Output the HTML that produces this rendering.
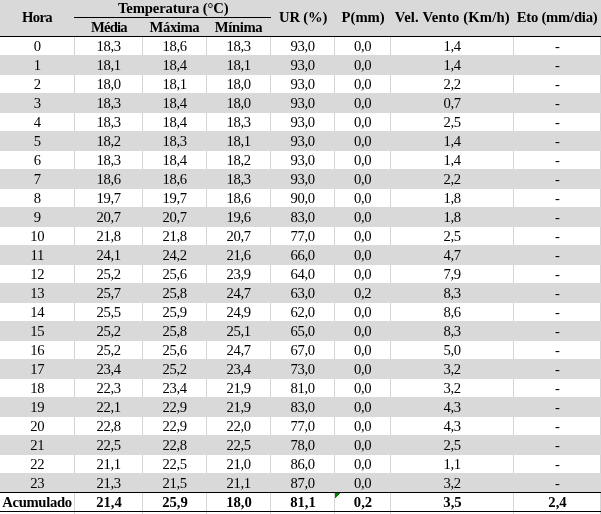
<!DOCTYPE html>
<html><head><meta charset="utf-8"><style>
*{margin:0;padding:0;box-sizing:border-box}
html,body{width:601px;height:514px;overflow:hidden;background:#fff}
body{position:relative;font-family:"Liberation Serif",serif;color:#000}
.b{position:absolute}
.t{position:absolute;text-align:center;white-space:nowrap;font-size:14.67px;line-height:20px;height:20px}
.h{font-weight:bold;font-size:14.67px}
</style></head>
<body>
<div class="b" style="left:0px;top:0px;width:601px;height:36px;background:#d9d9d9"></div>
<div class="b" style="left:74px;top:37px;width:1px;height:18px;background:#d4d4d4"></div>
<div class="b" style="left:142px;top:37px;width:1px;height:18px;background:#d4d4d4"></div>
<div class="b" style="left:206px;top:37px;width:1px;height:18px;background:#d4d4d4"></div>
<div class="b" style="left:270px;top:37px;width:1px;height:18px;background:#d4d4d4"></div>
<div class="b" style="left:334px;top:37px;width:1px;height:18px;background:#d4d4d4"></div>
<div class="b" style="left:390px;top:37px;width:1px;height:18px;background:#d4d4d4"></div>
<div class="b" style="left:513px;top:37px;width:1px;height:18px;background:#d4d4d4"></div>
<div class="b" style="left:600px;top:37px;width:1px;height:18px;background:#d4d4d4"></div>
<div class="b" style="left:0px;top:55px;width:601px;height:20px;background:#d9d9d9"></div>
<div class="b" style="left:74px;top:75px;width:1px;height:18px;background:#d4d4d4"></div>
<div class="b" style="left:142px;top:75px;width:1px;height:18px;background:#d4d4d4"></div>
<div class="b" style="left:206px;top:75px;width:1px;height:18px;background:#d4d4d4"></div>
<div class="b" style="left:270px;top:75px;width:1px;height:18px;background:#d4d4d4"></div>
<div class="b" style="left:334px;top:75px;width:1px;height:18px;background:#d4d4d4"></div>
<div class="b" style="left:390px;top:75px;width:1px;height:18px;background:#d4d4d4"></div>
<div class="b" style="left:513px;top:75px;width:1px;height:18px;background:#d4d4d4"></div>
<div class="b" style="left:600px;top:75px;width:1px;height:18px;background:#d4d4d4"></div>
<div class="b" style="left:0px;top:93px;width:601px;height:20px;background:#d9d9d9"></div>
<div class="b" style="left:74px;top:113px;width:1px;height:18px;background:#d4d4d4"></div>
<div class="b" style="left:142px;top:113px;width:1px;height:18px;background:#d4d4d4"></div>
<div class="b" style="left:206px;top:113px;width:1px;height:18px;background:#d4d4d4"></div>
<div class="b" style="left:270px;top:113px;width:1px;height:18px;background:#d4d4d4"></div>
<div class="b" style="left:334px;top:113px;width:1px;height:18px;background:#d4d4d4"></div>
<div class="b" style="left:390px;top:113px;width:1px;height:18px;background:#d4d4d4"></div>
<div class="b" style="left:513px;top:113px;width:1px;height:18px;background:#d4d4d4"></div>
<div class="b" style="left:600px;top:113px;width:1px;height:18px;background:#d4d4d4"></div>
<div class="b" style="left:0px;top:131px;width:601px;height:20px;background:#d9d9d9"></div>
<div class="b" style="left:74px;top:151px;width:1px;height:18px;background:#d4d4d4"></div>
<div class="b" style="left:142px;top:151px;width:1px;height:18px;background:#d4d4d4"></div>
<div class="b" style="left:206px;top:151px;width:1px;height:18px;background:#d4d4d4"></div>
<div class="b" style="left:270px;top:151px;width:1px;height:18px;background:#d4d4d4"></div>
<div class="b" style="left:334px;top:151px;width:1px;height:18px;background:#d4d4d4"></div>
<div class="b" style="left:390px;top:151px;width:1px;height:18px;background:#d4d4d4"></div>
<div class="b" style="left:513px;top:151px;width:1px;height:18px;background:#d4d4d4"></div>
<div class="b" style="left:600px;top:151px;width:1px;height:18px;background:#d4d4d4"></div>
<div class="b" style="left:0px;top:169px;width:601px;height:20px;background:#d9d9d9"></div>
<div class="b" style="left:74px;top:189px;width:1px;height:18px;background:#d4d4d4"></div>
<div class="b" style="left:142px;top:189px;width:1px;height:18px;background:#d4d4d4"></div>
<div class="b" style="left:206px;top:189px;width:1px;height:18px;background:#d4d4d4"></div>
<div class="b" style="left:270px;top:189px;width:1px;height:18px;background:#d4d4d4"></div>
<div class="b" style="left:334px;top:189px;width:1px;height:18px;background:#d4d4d4"></div>
<div class="b" style="left:390px;top:189px;width:1px;height:18px;background:#d4d4d4"></div>
<div class="b" style="left:513px;top:189px;width:1px;height:18px;background:#d4d4d4"></div>
<div class="b" style="left:600px;top:189px;width:1px;height:18px;background:#d4d4d4"></div>
<div class="b" style="left:0px;top:207px;width:601px;height:20px;background:#d9d9d9"></div>
<div class="b" style="left:74px;top:227px;width:1px;height:18px;background:#d4d4d4"></div>
<div class="b" style="left:142px;top:227px;width:1px;height:18px;background:#d4d4d4"></div>
<div class="b" style="left:206px;top:227px;width:1px;height:18px;background:#d4d4d4"></div>
<div class="b" style="left:270px;top:227px;width:1px;height:18px;background:#d4d4d4"></div>
<div class="b" style="left:334px;top:227px;width:1px;height:18px;background:#d4d4d4"></div>
<div class="b" style="left:390px;top:227px;width:1px;height:18px;background:#d4d4d4"></div>
<div class="b" style="left:513px;top:227px;width:1px;height:18px;background:#d4d4d4"></div>
<div class="b" style="left:600px;top:227px;width:1px;height:18px;background:#d4d4d4"></div>
<div class="b" style="left:0px;top:245px;width:601px;height:20px;background:#d9d9d9"></div>
<div class="b" style="left:74px;top:265px;width:1px;height:18px;background:#d4d4d4"></div>
<div class="b" style="left:142px;top:265px;width:1px;height:18px;background:#d4d4d4"></div>
<div class="b" style="left:206px;top:265px;width:1px;height:18px;background:#d4d4d4"></div>
<div class="b" style="left:270px;top:265px;width:1px;height:18px;background:#d4d4d4"></div>
<div class="b" style="left:334px;top:265px;width:1px;height:18px;background:#d4d4d4"></div>
<div class="b" style="left:390px;top:265px;width:1px;height:18px;background:#d4d4d4"></div>
<div class="b" style="left:513px;top:265px;width:1px;height:18px;background:#d4d4d4"></div>
<div class="b" style="left:600px;top:265px;width:1px;height:18px;background:#d4d4d4"></div>
<div class="b" style="left:0px;top:283px;width:601px;height:20px;background:#d9d9d9"></div>
<div class="b" style="left:74px;top:303px;width:1px;height:18px;background:#d4d4d4"></div>
<div class="b" style="left:142px;top:303px;width:1px;height:18px;background:#d4d4d4"></div>
<div class="b" style="left:206px;top:303px;width:1px;height:18px;background:#d4d4d4"></div>
<div class="b" style="left:270px;top:303px;width:1px;height:18px;background:#d4d4d4"></div>
<div class="b" style="left:334px;top:303px;width:1px;height:18px;background:#d4d4d4"></div>
<div class="b" style="left:390px;top:303px;width:1px;height:18px;background:#d4d4d4"></div>
<div class="b" style="left:513px;top:303px;width:1px;height:18px;background:#d4d4d4"></div>
<div class="b" style="left:600px;top:303px;width:1px;height:18px;background:#d4d4d4"></div>
<div class="b" style="left:0px;top:321px;width:601px;height:20px;background:#d9d9d9"></div>
<div class="b" style="left:74px;top:341px;width:1px;height:18px;background:#d4d4d4"></div>
<div class="b" style="left:142px;top:341px;width:1px;height:18px;background:#d4d4d4"></div>
<div class="b" style="left:206px;top:341px;width:1px;height:18px;background:#d4d4d4"></div>
<div class="b" style="left:270px;top:341px;width:1px;height:18px;background:#d4d4d4"></div>
<div class="b" style="left:334px;top:341px;width:1px;height:18px;background:#d4d4d4"></div>
<div class="b" style="left:390px;top:341px;width:1px;height:18px;background:#d4d4d4"></div>
<div class="b" style="left:513px;top:341px;width:1px;height:18px;background:#d4d4d4"></div>
<div class="b" style="left:600px;top:341px;width:1px;height:18px;background:#d4d4d4"></div>
<div class="b" style="left:0px;top:359px;width:601px;height:20px;background:#d9d9d9"></div>
<div class="b" style="left:74px;top:379px;width:1px;height:18px;background:#d4d4d4"></div>
<div class="b" style="left:142px;top:379px;width:1px;height:18px;background:#d4d4d4"></div>
<div class="b" style="left:206px;top:379px;width:1px;height:18px;background:#d4d4d4"></div>
<div class="b" style="left:270px;top:379px;width:1px;height:18px;background:#d4d4d4"></div>
<div class="b" style="left:334px;top:379px;width:1px;height:18px;background:#d4d4d4"></div>
<div class="b" style="left:390px;top:379px;width:1px;height:18px;background:#d4d4d4"></div>
<div class="b" style="left:513px;top:379px;width:1px;height:18px;background:#d4d4d4"></div>
<div class="b" style="left:600px;top:379px;width:1px;height:18px;background:#d4d4d4"></div>
<div class="b" style="left:0px;top:397px;width:601px;height:20px;background:#d9d9d9"></div>
<div class="b" style="left:74px;top:417px;width:1px;height:18px;background:#d4d4d4"></div>
<div class="b" style="left:142px;top:417px;width:1px;height:18px;background:#d4d4d4"></div>
<div class="b" style="left:206px;top:417px;width:1px;height:18px;background:#d4d4d4"></div>
<div class="b" style="left:270px;top:417px;width:1px;height:18px;background:#d4d4d4"></div>
<div class="b" style="left:334px;top:417px;width:1px;height:18px;background:#d4d4d4"></div>
<div class="b" style="left:390px;top:417px;width:1px;height:18px;background:#d4d4d4"></div>
<div class="b" style="left:513px;top:417px;width:1px;height:18px;background:#d4d4d4"></div>
<div class="b" style="left:600px;top:417px;width:1px;height:18px;background:#d4d4d4"></div>
<div class="b" style="left:0px;top:435px;width:601px;height:20px;background:#d9d9d9"></div>
<div class="b" style="left:74px;top:455px;width:1px;height:18px;background:#d4d4d4"></div>
<div class="b" style="left:142px;top:455px;width:1px;height:18px;background:#d4d4d4"></div>
<div class="b" style="left:206px;top:455px;width:1px;height:18px;background:#d4d4d4"></div>
<div class="b" style="left:270px;top:455px;width:1px;height:18px;background:#d4d4d4"></div>
<div class="b" style="left:334px;top:455px;width:1px;height:18px;background:#d4d4d4"></div>
<div class="b" style="left:390px;top:455px;width:1px;height:18px;background:#d4d4d4"></div>
<div class="b" style="left:513px;top:455px;width:1px;height:18px;background:#d4d4d4"></div>
<div class="b" style="left:600px;top:455px;width:1px;height:18px;background:#d4d4d4"></div>
<div class="b" style="left:0px;top:473px;width:601px;height:20px;background:#d9d9d9"></div>
<div class="b" style="left:74px;top:493px;width:1px;height:21px;background:#d4d4d4"></div>
<div class="b" style="left:142px;top:493px;width:1px;height:21px;background:#d4d4d4"></div>
<div class="b" style="left:206px;top:493px;width:1px;height:21px;background:#d4d4d4"></div>
<div class="b" style="left:270px;top:493px;width:1px;height:21px;background:#d4d4d4"></div>
<div class="b" style="left:334px;top:493px;width:1px;height:21px;background:#d4d4d4"></div>
<div class="b" style="left:390px;top:493px;width:1px;height:21px;background:#d4d4d4"></div>
<div class="b" style="left:513px;top:493px;width:1px;height:21px;background:#d4d4d4"></div>
<div class="b" style="left:600px;top:493px;width:1px;height:21px;background:#d4d4d4"></div>
<div class="b" style="left:0px;top:36px;width:601px;height:1px;background:#000"></div>
<div class="b" style="left:74px;top:17px;width:197px;height:1px;background:#000"></div>
<div class="b" style="left:0px;top:492px;width:601px;height:1px;background:#000"></div>
<div class="b" style="left:0px;top:511px;width:601px;height:1px;background:#000"></div>
<div class="t" style="left:-0.30px;top:36px;width:75px;letter-spacing:-0.300px;">0</div>
<div class="t" style="left:74.70px;top:36px;width:68px;letter-spacing:-0.300px;">18,3</div>
<div class="t" style="left:142.70px;top:36px;width:64px;letter-spacing:-0.300px;">18,6</div>
<div class="t" style="left:206.70px;top:36px;width:64px;letter-spacing:-0.300px;">18,3</div>
<div class="t" style="left:270.70px;top:36px;width:64px;letter-spacing:-0.300px;">93,0</div>
<div class="t" style="left:334.70px;top:36px;width:56px;letter-spacing:-0.300px;">0,0</div>
<div class="t" style="left:390.70px;top:36px;width:123px;letter-spacing:-0.300px;">1,4</div>
<div class="t" style="left:513.70px;top:36px;width:87px;letter-spacing:-0.300px;">-</div>
<div class="t" style="left:-0.30px;top:55px;width:75px;letter-spacing:-0.300px;">1</div>
<div class="t" style="left:74.70px;top:55px;width:68px;letter-spacing:-0.300px;">18,1</div>
<div class="t" style="left:142.70px;top:55px;width:64px;letter-spacing:-0.300px;">18,4</div>
<div class="t" style="left:206.70px;top:55px;width:64px;letter-spacing:-0.300px;">18,1</div>
<div class="t" style="left:270.70px;top:55px;width:64px;letter-spacing:-0.300px;">93,0</div>
<div class="t" style="left:334.70px;top:55px;width:56px;letter-spacing:-0.300px;">0,0</div>
<div class="t" style="left:390.70px;top:55px;width:123px;letter-spacing:-0.300px;">1,4</div>
<div class="t" style="left:513.70px;top:55px;width:87px;letter-spacing:-0.300px;">-</div>
<div class="t" style="left:-0.30px;top:74px;width:75px;letter-spacing:-0.300px;">2</div>
<div class="t" style="left:74.70px;top:74px;width:68px;letter-spacing:-0.300px;">18,0</div>
<div class="t" style="left:142.70px;top:74px;width:64px;letter-spacing:-0.300px;">18,1</div>
<div class="t" style="left:206.70px;top:74px;width:64px;letter-spacing:-0.300px;">18,0</div>
<div class="t" style="left:270.70px;top:74px;width:64px;letter-spacing:-0.300px;">93,0</div>
<div class="t" style="left:334.70px;top:74px;width:56px;letter-spacing:-0.300px;">0,0</div>
<div class="t" style="left:390.70px;top:74px;width:123px;letter-spacing:-0.300px;">2,2</div>
<div class="t" style="left:513.70px;top:74px;width:87px;letter-spacing:-0.300px;">-</div>
<div class="t" style="left:-0.30px;top:93px;width:75px;letter-spacing:-0.300px;">3</div>
<div class="t" style="left:74.70px;top:93px;width:68px;letter-spacing:-0.300px;">18,3</div>
<div class="t" style="left:142.70px;top:93px;width:64px;letter-spacing:-0.300px;">18,4</div>
<div class="t" style="left:206.70px;top:93px;width:64px;letter-spacing:-0.300px;">18,0</div>
<div class="t" style="left:270.70px;top:93px;width:64px;letter-spacing:-0.300px;">93,0</div>
<div class="t" style="left:334.70px;top:93px;width:56px;letter-spacing:-0.300px;">0,0</div>
<div class="t" style="left:390.70px;top:93px;width:123px;letter-spacing:-0.300px;">0,7</div>
<div class="t" style="left:513.70px;top:93px;width:87px;letter-spacing:-0.300px;">-</div>
<div class="t" style="left:-0.30px;top:112px;width:75px;letter-spacing:-0.300px;">4</div>
<div class="t" style="left:74.70px;top:112px;width:68px;letter-spacing:-0.300px;">18,3</div>
<div class="t" style="left:142.70px;top:112px;width:64px;letter-spacing:-0.300px;">18,4</div>
<div class="t" style="left:206.70px;top:112px;width:64px;letter-spacing:-0.300px;">18,3</div>
<div class="t" style="left:270.70px;top:112px;width:64px;letter-spacing:-0.300px;">93,0</div>
<div class="t" style="left:334.70px;top:112px;width:56px;letter-spacing:-0.300px;">0,0</div>
<div class="t" style="left:390.70px;top:112px;width:123px;letter-spacing:-0.300px;">2,5</div>
<div class="t" style="left:513.70px;top:112px;width:87px;letter-spacing:-0.300px;">-</div>
<div class="t" style="left:-0.30px;top:131px;width:75px;letter-spacing:-0.300px;">5</div>
<div class="t" style="left:74.70px;top:131px;width:68px;letter-spacing:-0.300px;">18,2</div>
<div class="t" style="left:142.70px;top:131px;width:64px;letter-spacing:-0.300px;">18,3</div>
<div class="t" style="left:206.70px;top:131px;width:64px;letter-spacing:-0.300px;">18,1</div>
<div class="t" style="left:270.70px;top:131px;width:64px;letter-spacing:-0.300px;">93,0</div>
<div class="t" style="left:334.70px;top:131px;width:56px;letter-spacing:-0.300px;">0,0</div>
<div class="t" style="left:390.70px;top:131px;width:123px;letter-spacing:-0.300px;">1,4</div>
<div class="t" style="left:513.70px;top:131px;width:87px;letter-spacing:-0.300px;">-</div>
<div class="t" style="left:-0.30px;top:150px;width:75px;letter-spacing:-0.300px;">6</div>
<div class="t" style="left:74.70px;top:150px;width:68px;letter-spacing:-0.300px;">18,3</div>
<div class="t" style="left:142.70px;top:150px;width:64px;letter-spacing:-0.300px;">18,4</div>
<div class="t" style="left:206.70px;top:150px;width:64px;letter-spacing:-0.300px;">18,2</div>
<div class="t" style="left:270.70px;top:150px;width:64px;letter-spacing:-0.300px;">93,0</div>
<div class="t" style="left:334.70px;top:150px;width:56px;letter-spacing:-0.300px;">0,0</div>
<div class="t" style="left:390.70px;top:150px;width:123px;letter-spacing:-0.300px;">1,4</div>
<div class="t" style="left:513.70px;top:150px;width:87px;letter-spacing:-0.300px;">-</div>
<div class="t" style="left:-0.30px;top:169px;width:75px;letter-spacing:-0.300px;">7</div>
<div class="t" style="left:74.70px;top:169px;width:68px;letter-spacing:-0.300px;">18,6</div>
<div class="t" style="left:142.70px;top:169px;width:64px;letter-spacing:-0.300px;">18,6</div>
<div class="t" style="left:206.70px;top:169px;width:64px;letter-spacing:-0.300px;">18,3</div>
<div class="t" style="left:270.70px;top:169px;width:64px;letter-spacing:-0.300px;">93,0</div>
<div class="t" style="left:334.70px;top:169px;width:56px;letter-spacing:-0.300px;">0,0</div>
<div class="t" style="left:390.70px;top:169px;width:123px;letter-spacing:-0.300px;">2,2</div>
<div class="t" style="left:513.70px;top:169px;width:87px;letter-spacing:-0.300px;">-</div>
<div class="t" style="left:-0.30px;top:188px;width:75px;letter-spacing:-0.300px;">8</div>
<div class="t" style="left:74.70px;top:188px;width:68px;letter-spacing:-0.300px;">19,7</div>
<div class="t" style="left:142.70px;top:188px;width:64px;letter-spacing:-0.300px;">19,7</div>
<div class="t" style="left:206.70px;top:188px;width:64px;letter-spacing:-0.300px;">18,6</div>
<div class="t" style="left:270.70px;top:188px;width:64px;letter-spacing:-0.300px;">90,0</div>
<div class="t" style="left:334.70px;top:188px;width:56px;letter-spacing:-0.300px;">0,0</div>
<div class="t" style="left:390.70px;top:188px;width:123px;letter-spacing:-0.300px;">1,8</div>
<div class="t" style="left:513.70px;top:188px;width:87px;letter-spacing:-0.300px;">-</div>
<div class="t" style="left:-0.30px;top:207px;width:75px;letter-spacing:-0.300px;">9</div>
<div class="t" style="left:74.70px;top:207px;width:68px;letter-spacing:-0.300px;">20,7</div>
<div class="t" style="left:142.70px;top:207px;width:64px;letter-spacing:-0.300px;">20,7</div>
<div class="t" style="left:206.70px;top:207px;width:64px;letter-spacing:-0.300px;">19,6</div>
<div class="t" style="left:270.70px;top:207px;width:64px;letter-spacing:-0.300px;">83,0</div>
<div class="t" style="left:334.70px;top:207px;width:56px;letter-spacing:-0.300px;">0,0</div>
<div class="t" style="left:390.70px;top:207px;width:123px;letter-spacing:-0.300px;">1,8</div>
<div class="t" style="left:513.70px;top:207px;width:87px;letter-spacing:-0.300px;">-</div>
<div class="t" style="left:-0.30px;top:226px;width:75px;letter-spacing:-0.300px;">10</div>
<div class="t" style="left:74.70px;top:226px;width:68px;letter-spacing:-0.300px;">21,8</div>
<div class="t" style="left:142.70px;top:226px;width:64px;letter-spacing:-0.300px;">21,8</div>
<div class="t" style="left:206.70px;top:226px;width:64px;letter-spacing:-0.300px;">20,7</div>
<div class="t" style="left:270.70px;top:226px;width:64px;letter-spacing:-0.300px;">77,0</div>
<div class="t" style="left:334.70px;top:226px;width:56px;letter-spacing:-0.300px;">0,0</div>
<div class="t" style="left:390.70px;top:226px;width:123px;letter-spacing:-0.300px;">2,5</div>
<div class="t" style="left:513.70px;top:226px;width:87px;letter-spacing:-0.300px;">-</div>
<div class="t" style="left:-0.30px;top:245px;width:75px;letter-spacing:-0.300px;">11</div>
<div class="t" style="left:74.70px;top:245px;width:68px;letter-spacing:-0.300px;">24,1</div>
<div class="t" style="left:142.70px;top:245px;width:64px;letter-spacing:-0.300px;">24,2</div>
<div class="t" style="left:206.70px;top:245px;width:64px;letter-spacing:-0.300px;">21,6</div>
<div class="t" style="left:270.70px;top:245px;width:64px;letter-spacing:-0.300px;">66,0</div>
<div class="t" style="left:334.70px;top:245px;width:56px;letter-spacing:-0.300px;">0,0</div>
<div class="t" style="left:390.70px;top:245px;width:123px;letter-spacing:-0.300px;">4,7</div>
<div class="t" style="left:513.70px;top:245px;width:87px;letter-spacing:-0.300px;">-</div>
<div class="t" style="left:-0.30px;top:264px;width:75px;letter-spacing:-0.300px;">12</div>
<div class="t" style="left:74.70px;top:264px;width:68px;letter-spacing:-0.300px;">25,2</div>
<div class="t" style="left:142.70px;top:264px;width:64px;letter-spacing:-0.300px;">25,6</div>
<div class="t" style="left:206.70px;top:264px;width:64px;letter-spacing:-0.300px;">23,9</div>
<div class="t" style="left:270.70px;top:264px;width:64px;letter-spacing:-0.300px;">64,0</div>
<div class="t" style="left:334.70px;top:264px;width:56px;letter-spacing:-0.300px;">0,0</div>
<div class="t" style="left:390.70px;top:264px;width:123px;letter-spacing:-0.300px;">7,9</div>
<div class="t" style="left:513.70px;top:264px;width:87px;letter-spacing:-0.300px;">-</div>
<div class="t" style="left:-0.30px;top:283px;width:75px;letter-spacing:-0.300px;">13</div>
<div class="t" style="left:74.70px;top:283px;width:68px;letter-spacing:-0.300px;">25,7</div>
<div class="t" style="left:142.70px;top:283px;width:64px;letter-spacing:-0.300px;">25,8</div>
<div class="t" style="left:206.70px;top:283px;width:64px;letter-spacing:-0.300px;">24,7</div>
<div class="t" style="left:270.70px;top:283px;width:64px;letter-spacing:-0.300px;">63,0</div>
<div class="t" style="left:334.70px;top:283px;width:56px;letter-spacing:-0.300px;">0,2</div>
<div class="t" style="left:390.70px;top:283px;width:123px;letter-spacing:-0.300px;">8,3</div>
<div class="t" style="left:513.70px;top:283px;width:87px;letter-spacing:-0.300px;">-</div>
<div class="t" style="left:-0.30px;top:302px;width:75px;letter-spacing:-0.300px;">14</div>
<div class="t" style="left:74.70px;top:302px;width:68px;letter-spacing:-0.300px;">25,5</div>
<div class="t" style="left:142.70px;top:302px;width:64px;letter-spacing:-0.300px;">25,9</div>
<div class="t" style="left:206.70px;top:302px;width:64px;letter-spacing:-0.300px;">24,9</div>
<div class="t" style="left:270.70px;top:302px;width:64px;letter-spacing:-0.300px;">62,0</div>
<div class="t" style="left:334.70px;top:302px;width:56px;letter-spacing:-0.300px;">0,0</div>
<div class="t" style="left:390.70px;top:302px;width:123px;letter-spacing:-0.300px;">8,6</div>
<div class="t" style="left:513.70px;top:302px;width:87px;letter-spacing:-0.300px;">-</div>
<div class="t" style="left:-0.30px;top:321px;width:75px;letter-spacing:-0.300px;">15</div>
<div class="t" style="left:74.70px;top:321px;width:68px;letter-spacing:-0.300px;">25,2</div>
<div class="t" style="left:142.70px;top:321px;width:64px;letter-spacing:-0.300px;">25,8</div>
<div class="t" style="left:206.70px;top:321px;width:64px;letter-spacing:-0.300px;">25,1</div>
<div class="t" style="left:270.70px;top:321px;width:64px;letter-spacing:-0.300px;">65,0</div>
<div class="t" style="left:334.70px;top:321px;width:56px;letter-spacing:-0.300px;">0,0</div>
<div class="t" style="left:390.70px;top:321px;width:123px;letter-spacing:-0.300px;">8,3</div>
<div class="t" style="left:513.70px;top:321px;width:87px;letter-spacing:-0.300px;">-</div>
<div class="t" style="left:-0.30px;top:340px;width:75px;letter-spacing:-0.300px;">16</div>
<div class="t" style="left:74.70px;top:340px;width:68px;letter-spacing:-0.300px;">25,2</div>
<div class="t" style="left:142.70px;top:340px;width:64px;letter-spacing:-0.300px;">25,6</div>
<div class="t" style="left:206.70px;top:340px;width:64px;letter-spacing:-0.300px;">24,7</div>
<div class="t" style="left:270.70px;top:340px;width:64px;letter-spacing:-0.300px;">67,0</div>
<div class="t" style="left:334.70px;top:340px;width:56px;letter-spacing:-0.300px;">0,0</div>
<div class="t" style="left:390.70px;top:340px;width:123px;letter-spacing:-0.300px;">5,0</div>
<div class="t" style="left:513.70px;top:340px;width:87px;letter-spacing:-0.300px;">-</div>
<div class="t" style="left:-0.30px;top:359px;width:75px;letter-spacing:-0.300px;">17</div>
<div class="t" style="left:74.70px;top:359px;width:68px;letter-spacing:-0.300px;">23,4</div>
<div class="t" style="left:142.70px;top:359px;width:64px;letter-spacing:-0.300px;">25,2</div>
<div class="t" style="left:206.70px;top:359px;width:64px;letter-spacing:-0.300px;">23,4</div>
<div class="t" style="left:270.70px;top:359px;width:64px;letter-spacing:-0.300px;">73,0</div>
<div class="t" style="left:334.70px;top:359px;width:56px;letter-spacing:-0.300px;">0,0</div>
<div class="t" style="left:390.70px;top:359px;width:123px;letter-spacing:-0.300px;">3,2</div>
<div class="t" style="left:513.70px;top:359px;width:87px;letter-spacing:-0.300px;">-</div>
<div class="t" style="left:-0.30px;top:378px;width:75px;letter-spacing:-0.300px;">18</div>
<div class="t" style="left:74.70px;top:378px;width:68px;letter-spacing:-0.300px;">22,3</div>
<div class="t" style="left:142.70px;top:378px;width:64px;letter-spacing:-0.300px;">23,4</div>
<div class="t" style="left:206.70px;top:378px;width:64px;letter-spacing:-0.300px;">21,9</div>
<div class="t" style="left:270.70px;top:378px;width:64px;letter-spacing:-0.300px;">81,0</div>
<div class="t" style="left:334.70px;top:378px;width:56px;letter-spacing:-0.300px;">0,0</div>
<div class="t" style="left:390.70px;top:378px;width:123px;letter-spacing:-0.300px;">3,2</div>
<div class="t" style="left:513.70px;top:378px;width:87px;letter-spacing:-0.300px;">-</div>
<div class="t" style="left:-0.30px;top:397px;width:75px;letter-spacing:-0.300px;">19</div>
<div class="t" style="left:74.70px;top:397px;width:68px;letter-spacing:-0.300px;">22,1</div>
<div class="t" style="left:142.70px;top:397px;width:64px;letter-spacing:-0.300px;">22,9</div>
<div class="t" style="left:206.70px;top:397px;width:64px;letter-spacing:-0.300px;">21,9</div>
<div class="t" style="left:270.70px;top:397px;width:64px;letter-spacing:-0.300px;">83,0</div>
<div class="t" style="left:334.70px;top:397px;width:56px;letter-spacing:-0.300px;">0,0</div>
<div class="t" style="left:390.70px;top:397px;width:123px;letter-spacing:-0.300px;">4,3</div>
<div class="t" style="left:513.70px;top:397px;width:87px;letter-spacing:-0.300px;">-</div>
<div class="t" style="left:-0.30px;top:416px;width:75px;letter-spacing:-0.300px;">20</div>
<div class="t" style="left:74.70px;top:416px;width:68px;letter-spacing:-0.300px;">22,8</div>
<div class="t" style="left:142.70px;top:416px;width:64px;letter-spacing:-0.300px;">22,9</div>
<div class="t" style="left:206.70px;top:416px;width:64px;letter-spacing:-0.300px;">22,0</div>
<div class="t" style="left:270.70px;top:416px;width:64px;letter-spacing:-0.300px;">77,0</div>
<div class="t" style="left:334.70px;top:416px;width:56px;letter-spacing:-0.300px;">0,0</div>
<div class="t" style="left:390.70px;top:416px;width:123px;letter-spacing:-0.300px;">4,3</div>
<div class="t" style="left:513.70px;top:416px;width:87px;letter-spacing:-0.300px;">-</div>
<div class="t" style="left:-0.30px;top:435px;width:75px;letter-spacing:-0.300px;">21</div>
<div class="t" style="left:74.70px;top:435px;width:68px;letter-spacing:-0.300px;">22,5</div>
<div class="t" style="left:142.70px;top:435px;width:64px;letter-spacing:-0.300px;">22,8</div>
<div class="t" style="left:206.70px;top:435px;width:64px;letter-spacing:-0.300px;">22,5</div>
<div class="t" style="left:270.70px;top:435px;width:64px;letter-spacing:-0.300px;">78,0</div>
<div class="t" style="left:334.70px;top:435px;width:56px;letter-spacing:-0.300px;">0,0</div>
<div class="t" style="left:390.70px;top:435px;width:123px;letter-spacing:-0.300px;">2,5</div>
<div class="t" style="left:513.70px;top:435px;width:87px;letter-spacing:-0.300px;">-</div>
<div class="t" style="left:-0.30px;top:454px;width:75px;letter-spacing:-0.300px;">22</div>
<div class="t" style="left:74.70px;top:454px;width:68px;letter-spacing:-0.300px;">21,1</div>
<div class="t" style="left:142.70px;top:454px;width:64px;letter-spacing:-0.300px;">22,5</div>
<div class="t" style="left:206.70px;top:454px;width:64px;letter-spacing:-0.300px;">21,0</div>
<div class="t" style="left:270.70px;top:454px;width:64px;letter-spacing:-0.300px;">86,0</div>
<div class="t" style="left:334.70px;top:454px;width:56px;letter-spacing:-0.300px;">0,0</div>
<div class="t" style="left:390.70px;top:454px;width:123px;letter-spacing:-0.300px;">1,1</div>
<div class="t" style="left:513.70px;top:454px;width:87px;letter-spacing:-0.300px;">-</div>
<div class="t" style="left:-0.30px;top:473px;width:75px;letter-spacing:-0.300px;">23</div>
<div class="t" style="left:74.70px;top:473px;width:68px;letter-spacing:-0.300px;">21,3</div>
<div class="t" style="left:142.70px;top:473px;width:64px;letter-spacing:-0.300px;">21,5</div>
<div class="t" style="left:206.70px;top:473px;width:64px;letter-spacing:-0.300px;">21,1</div>
<div class="t" style="left:270.70px;top:473px;width:64px;letter-spacing:-0.300px;">87,0</div>
<div class="t" style="left:334.70px;top:473px;width:56px;letter-spacing:-0.300px;">0,0</div>
<div class="t" style="left:390.70px;top:473px;width:123px;letter-spacing:-0.300px;">3,2</div>
<div class="t" style="left:513.70px;top:473px;width:87px;letter-spacing:-0.300px;">-</div>
<div class="t h" style="left:-0.50px;top:492px;width:75px;letter-spacing:-0.340px;">Acumulado</div>
<div class="t h" style="left:75.00px;top:492px;width:68px;letter-spacing:0.000px;">21,4</div>
<div class="t h" style="left:143.00px;top:492px;width:64px;letter-spacing:0.000px;">25,9</div>
<div class="t h" style="left:207.00px;top:492px;width:64px;letter-spacing:0.000px;">18,0</div>
<div class="t h" style="left:271.00px;top:492px;width:64px;letter-spacing:0.000px;">81,1</div>
<div class="t h" style="left:335.00px;top:492px;width:56px;letter-spacing:0.000px;">0,2</div>
<div class="t h" style="left:391.00px;top:492px;width:123px;letter-spacing:0.000px;">3,5</div>
<div class="t h" style="left:514.00px;top:492px;width:87px;letter-spacing:0.000px;">2,4</div>
<div class="t h" style="left:-0.50px;top:7px;width:75px;letter-spacing:-0.600px;">Hora</div>
<div class="t h" style="left:75.20px;top:-2px;width:196px;letter-spacing:-0.120px;">Temperatura (°C)</div>
<div class="t h" style="left:74.85px;top:17px;width:68px;letter-spacing:-0.850px;">Média</div>
<div class="t h" style="left:142.40px;top:17px;width:64px;letter-spacing:-0.400px;">Máxima</div>
<div class="t h" style="left:206.50px;top:17px;width:64px;letter-spacing:-0.350px;">Mínima</div>
<div class="t h" style="left:271.10px;top:7px;width:64px;letter-spacing:-0.200px;">UR (%)</div>
<div class="t h" style="left:335.15px;top:7px;width:56px;letter-spacing:0.000px;">P(mm)</div>
<div class="t h" style="left:390.80px;top:7px;width:123px;letter-spacing:0.170px;">Vel. Vento (Km/h)</div>
<div class="t h" style="left:513.60px;top:7px;width:87px;letter-spacing:-0.230px;">Eto (mm/dia)</div>
<div class="b" style="left:335px;top:493px;width:5px;height:1px;background:#008000"></div>
<div class="b" style="left:335px;top:494px;width:4px;height:1px;background:#008000"></div>
<div class="b" style="left:335px;top:495px;width:3px;height:1px;background:#008000"></div>
<div class="b" style="left:335px;top:496px;width:2px;height:1px;background:#008000"></div>
<div class="b" style="left:335px;top:497px;width:1px;height:1px;background:#008000"></div>
</body></html>
